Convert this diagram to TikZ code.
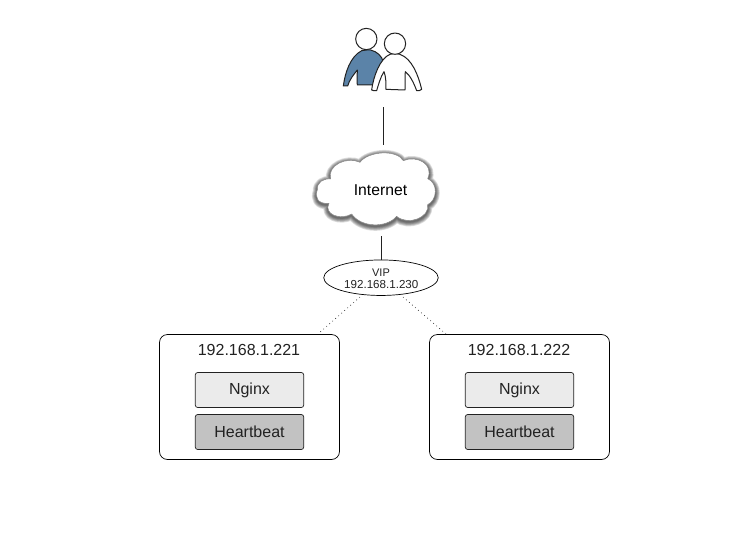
\documentclass[tikz,border=0pt]{standalone}
\usepackage{fontspec}
\usetikzlibrary{shapes.geometric}
\setmainfont{Liberation Sans}
\definecolor{persblue}{HTML}{5B83A8}
\definecolor{nginxfill}{HTML}{EBEBEB}
\definecolor{hbfill}{HTML}{C2C2C2}
\definecolor{inkc}{HTML}{222222}
\newcommand{\cloudpath}{(52,180) .. controls (50,157) and (70,145) .. (92,147)
 .. controls (80,107) and (140,78) .. (180,97)
 .. controls (205,63) and (290,58) .. (310,92)
 .. controls (350,75) and (403,102) .. (383,146)
 .. controls (415,160) and (412,210) .. (383,224)
 .. controls (390,262) and (325,288) .. (290,259)
 .. controls (260,294) and (185,294) .. (155,252)
 .. controls (120,272) and (70,252) .. (87,220)
 .. controls (52,223) and (44,200) .. (52,180) -- cycle}
\tikzset{
  hostbox/.style={draw=black,fill=white,rounded corners=8pt,line width=0.7pt,minimum width=180pt,minimum height=125pt},
  svcbox/.style={draw=inkc,rounded corners=2.5pt,line width=0.7pt,minimum width=108.5pt,minimum height=35pt,font=\fontsize{16}{18}\selectfont,text=inkc},
  nginxbox/.style={svcbox,fill=nginxfill},
  hbbox/.style={svcbox,fill=hbfill},
  hostlabel/.style={font=\fontsize{16}{18}\selectfont,text=inkc},
  link/.style={draw=inkc,line width=0.9pt},
  dotlink/.style={draw=inkc,line width=0.6pt,dash pattern=on 0.8pt off 3.2pt},
  person/.style={draw=inkc,line width=1pt,line join=round}
}
\begin{document}
\begin{tikzpicture}[x=1pt,y=-1pt]
\useasboundingbox (0,0) rectangle (756,552);
\fill[white] (0,0) rectangle (756,552);

% people
\begin{scope}[shift={(300,20)},x=0.3333pt,y=-0.3333pt]
  \draw[person,fill=persblue] (185,92) -- (199,90) -- (212,90)
    .. controls (232,95) and (245,108) .. (250,125) -- (225,195) -- (172,195)
    .. controls (170,180) and (172,165) .. (172,150)
    .. controls (160,165) and (148,180) .. (143,198) -- (130,198)
    .. controls (135,160) and (150,110) .. (185,92) -- cycle;
  \draw[person,fill=white] (199,57) circle[radius=32];
  \draw[person,fill=white] (270,103) -- (285,100) -- (300,103)
    .. controls (335,115) and (355,165) .. (365,208)
    .. controls (360,213) and (354,213) .. (350,212)
    .. controls (342,190) and (330,165) .. (316,155)
    .. controls (314,175) and (316,195) .. (315,210) -- (258,208)
    .. controls (258,190) and (258,170) .. (252,155)
    .. controls (242,170) and (235,195) .. (230,212)
    .. controls (225,213) and (218,212) .. (215,210)
    .. controls (220,170) and (240,115) .. (270,103) -- cycle;
  \draw[person,fill=white] (285,71) circle[radius=32];
\end{scope}
\coordinate (peoplefoot) at (383,107);

% cloud
\begin{scope}[shift={(300,130)},x=0.3333pt,y=-0.3333pt]
  \foreach \w in {9,7.5,6,4.5,3,1.5}{
    \draw[black,opacity=0.13,line width=\w pt,line join=round,yshift=-1.5pt] \cloudpath;
  }
  \fill[white] \cloudpath;
  \draw[gray,line width=0.4pt] \cloudpath;
\end{scope}
\node[font=\fontsize{15.7}{18}\selectfont,text=black] (internet) at (380.5,190.5) {Internet};
\coordinate (cloudtop) at (383,144.5);
\coordinate (cloudfoot) at (381,236);

% VIP
\node[draw=black,fill=white,ellipse,line width=0.7pt,minimum width=114.5pt,minimum height=35.5pt,inner sep=0pt,align=center] (vip) at (381,277.7) {};
\node[font=\fontsize{11}{12}\selectfont,text=inkc] (viptitle) at (381,272.5) {VIP};
\node[font=\fontsize{11.6}{12}\selectfont,text=inkc] (vipaddr) at (381.3,284.5) {192.168.1.230};

% hosts
\node[hostbox] (hostA) at (249.5,397) {};
\node[hostlabel] (hostAlabel) at (249,349.5) {192.168.1.221};
\node[nginxbox] (nginxA) at (249.5,390) {\raisebox{-1pt}{Nginx}};
\node[hbbox] (hbA) at (249.5,432) {\raisebox{-0.5pt}{Heartbeat}};

\node[hostbox] (hostB) at (519.5,397) {};
\node[hostlabel] (hostBlabel) at (519,349.5) {192.168.1.222};
\node[nginxbox] (nginxB) at (519.5,390) {\raisebox{-1pt}{Nginx}};
\node[hbbox] (hbB) at (519.5,432) {\raisebox{-0.5pt}{Heartbeat}};

% connectors
\draw[link] (peoplefoot) -- (cloudtop);
\draw[link] (cloudfoot) -- (vip.north -| cloudfoot);
\coordinate (vipL) at (360,297);
\coordinate (hostAtop) at (318,334);
\coordinate (vipR) at (403,297);
\coordinate (hostBtop) at (446,334);
\draw[dotlink] (vipL) -- (hostAtop);
\draw[dotlink] (vipR) -- (hostBtop);
\end{tikzpicture}
\end{document}
